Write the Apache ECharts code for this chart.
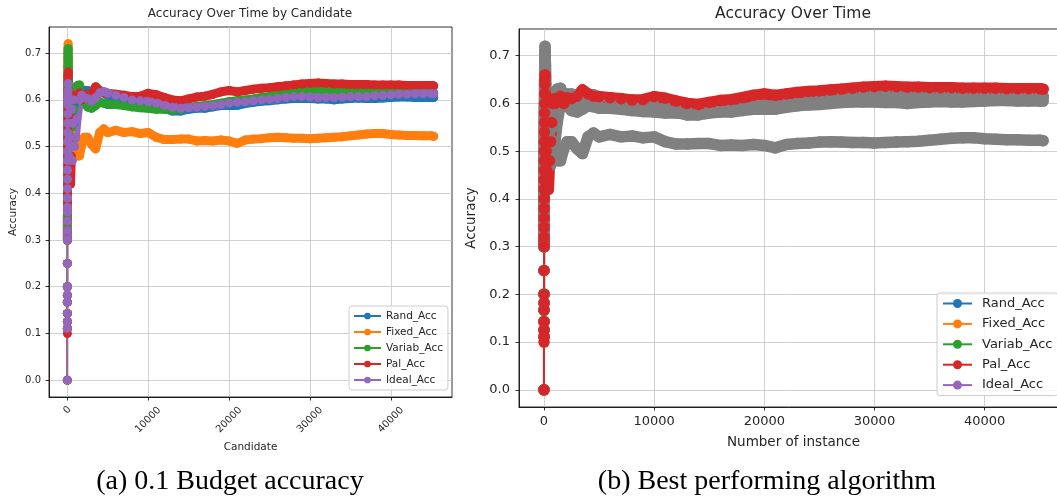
<!DOCTYPE html>
<html><head><meta charset="utf-8">
<script src="https://cdn.jsdelivr.net/npm/echarts@6/dist/echarts.min.js"></script>
<style>html,body{margin:0;padding:0;background:#fff}#c{width:1057px;height:497px}</style>
</head><body><div id="c"></div>
<script>
// ---------------- data ----------------
const seriesNames = ['Rand_Acc', 'Fixed_Acc', 'Variab_Acc', 'Pal_Acc', 'Ideal_Acc'];
const xTicks = [0, 10000, 20000, 30000, 40000];
const yTicks = [0, 0.1, 0.2, 0.3, 0.4, 0.5, 0.6, 0.7];

const instances = [1,4,5,6,7,8,9,10,11,
  13,15,17,19,21,24,27,30,34,38,42,46,50,55,60,66,72,80,90,100,
  130,160,200,250,300,400,500,600,700,800,900,
  1000,1200,1500,1800,2100,2500,3000,3500,4000,4500,
  5000,6000,7000,8000,9000,10000,11000,12000,13000,14000,
  15000,16000,17000,18000,19000,20000,21000,22000,23000,24000,
  25000,26000,27000,28000,29000,30000,31000,32000,33000,34000,
  35000,36000,37000,38000,39000,40000,41000,42000,43000,44000,
  45000,45300];

const randAcc = [0,.25,.2,.167,.143,.125,.111,.2,.182,
  .3,.32,.34,.36,.38,.4,.42,.44,.46,.48,.5,.52,.54,.56,.58,.6,.61,.62,.64,.65,
  .62,.58,.55,.52,.56,.5,.55,.52,.57,.55,.59,
  .6,.6,.61,.615,.62,.62,.612,.615,.62,.615,
  .61,.605,.6,.598,.595,.592,.588,.582,.576,.576,
  .58,.582,.582,.585,.588,.588,.588,.592,.595,.597,
  .598,.6,.602,.603,.603,.603,.602,.602,.6,.602,
  .603,.604,.603,.603,.604,.605,.606,.606,.605,.605,
  .605,.605];

const fixedAcc = [0,.25,.2,.167,.143,.125,.111,.2,.182,
  .3,.33,.36,.38,.41,.44,.46,.49,.51,.54,.56,.58,.6,.62,.64,.66,.68,.7,.71,.72,
  .68,.62,.58,.55,.52,.5,.53,.5,.52,.5,.49,
  .49,.48,.48,.505,.52,.52,.505,.495,.53,.538,
  .53,.535,.53,.532,.528,.53,.52,.515,.515,.516,
  .516,.512,.513,.512,.514,.512,.507,.514,.516,.517,
  .519,.52,.519,.518,.518,.517,.518,.519,.52,.521,
  .523,.525,.527,.528,.528,.526,.525,.524,.524,.523,
  .523,.522];

const variabAcc = [0,.25,.2,.167,.143,.125,.111,.2,.182,
  .3,.33,.35,.38,.4,.43,.45,.48,.5,.53,.55,.57,.59,.61,.63,.65,.67,.69,.7,.71,
  .68,.64,.6,.57,.55,.58,.54,.52,.56,.58,.6,
  .62,.63,.632,.615,.595,.585,.582,.588,.595,.593,
  .59,.59,.588,.585,.583,.582,.58,.58,.578,.58,
  .583,.586,.588,.59,.593,.596,.598,.6,.602,.605,
  .607,.61,.613,.616,.618,.62,.62,.62,.618,.617,
  .617,.617,.616,.616,.615,.615,.615,.615,.615,.615,
  .615,.615];

const palAcc = [0,.25,.2,.167,.143,.125,.111,.1,.182,
  .3,.32,.34,.36,.38,.4,.42,.44,.46,.48,.5,.52,.54,.56,.58,.6,.62,.64,.65,.66,
  .62,.56,.5,.46,.44,.42,.48,.52,.56,.6,.61,
  .6,.61,.615,.6,.612,.61,.615,.628,.62,.615,
  .614,.612,.61,.607,.608,.614,.611,.605,.6,.598,
  .602,.606,.608,.612,.617,.62,.617,.62,.623,.625,
  .626,.628,.63,.632,.634,.635,.636,.635,.634,.634,
  .633,.633,.633,.632,.632,.632,.632,.631,.631,.631,
  .631,.63];

const idealAcc = [0,.25,.2,.167,.143,.125,.111,.2,.182,
  .3,.32,.34,.36,.37,.39,.41,.43,.45,.47,.49,.51,.53,.55,.57,.59,.6,.61,.62,.635,
  .6,.55,.48,.52,.6,.5,.58,.47,.55,.6,.5,
  .52,.56,.6,.61,.605,.603,.597,.605,.615,.618,
  .614,.61,.605,.6,.598,.596,.593,.588,.584,.582,
  .583,.584,.586,.588,.59,.593,.595,.596,.598,.6,
  .601,.603,.605,.607,.607,.606,.605,.605,.605,.606,
  .607,.607,.607,.609,.61,.611,.612,.612,.613,.613,
  .613,.613];

// ---------------- chart ----------------
const values = {Rand_Acc: randAcc, Fixed_Acc: fixedAcc, Variab_Acc: variabAcc, Pal_Acc: palAcc, Ideal_Acc: idealAcc};
const COLORS = {Rand_Acc:'#1f77b4', Fixed_Acc:'#ff7f0e', Variab_Acc:'#2ca02c', Pal_Acc:'#d62728', Ideal_Acc:'#9467bd'};
const GRAY = '#808080';
const FONT = 'DejaVu Sans';
const TXT = '#262626';
const GRIDC = '#c4c4c4';
const HEAD = 9; // first sparse points drawn as separate dots on a thin line

function pts(ys, from) { return instances.map((x, i) => [x, ys[i]]).slice(from || 0); }
// dots + thin connecting line (whole run)
function dotSeries(name, color, gi, size, lw) {
  return {
    type: 'line', name: name, xAxisIndex: gi, yAxisIndex: gi, data: pts(values[name]),
    symbol: 'circle', symbolSize: size, showSymbol: true, showAllSymbol: true,
    lineStyle: {color: color, width: lw}, itemStyle: {color: color, borderWidth: 0},
    emphasis: {disabled: true}, animation: false, clip: true, silent: true
  };
}
// dense run of markers, rendered as a thick round-capped stroke
function bandSeries(name, color, gi, size) {
  return {
    type: 'line', name: name, xAxisIndex: gi, yAxisIndex: gi, data: pts(values[name], HEAD),
    symbol: 'none', showSymbol: false,
    lineStyle: {color: color, width: size, cap: 'round', join: 'round'},
    itemStyle: {color: color},
    emphasis: {disabled: true}, animation: false, clip: true, silent: true
  };
}

const series = [];
seriesNames.forEach(n => {
  series.push(dotSeries(n, COLORS[n], 0, 9, 1.5));
  series.push(bandSeries(n, COLORS[n], 0, 9));
});
const rightOrder = ['Rand_Acc', 'Fixed_Acc', 'Variab_Acc', 'Ideal_Acc', 'Pal_Acc'];
rightOrder.forEach(n => {
  const c = n === 'Pal_Acc' ? COLORS.Pal_Acc : GRAY;
  series.push(dotSeries(n, c, 1, 11.5, 2));
  series.push(bandSeries(n, c, 1, 11.5));
});

function xAxisCfg(gi, fs, rotated, name, nameGap) {
  const label = {
    customValues: xTicks, fontSize: fs, color: TXT, fontFamily: FONT, formatter: v => String(v)
  };
  if (rotated) {
    Object.assign(label, {
      rotate: 45, align: 'center', verticalAlign: 'middle', margin: 23,
      formatter: v => v === 0 ? '{z|0}' : '{n|' + v + '}',
      rich: {z: {fontSize: fs, color: TXT, fontFamily: FONT, padding: [0, 0, 14, 14]},
             n: {fontSize: fs, color: TXT, fontFamily: FONT}}
    });
  } else {
    label.margin = 8;
  }
  return {
    gridIndex: gi, type: 'value', min: -2265, max: 47565,
    axisLine: {show: true, onZero: false, lineStyle: {color: '#000', width: 0.8}},
    axisTick: {show: true, customValues: xTicks, length: 3.5, inside: false, lineStyle: {color: '#000', width: 0.8}},
    axisLabel: label,
    splitLine: {show: true, lineStyle: {color: GRIDC, width: 0.8}},
    name: name, nameLocation: 'middle', nameGap: nameGap,
    nameTextStyle: {fontSize: fs + 0.5, color: TXT, fontFamily: FONT}
  };
}
function yAxisCfg(gi, fs, margin, nameGap) {
  return {
    gridIndex: gi, type: 'value', min: -0.036, max: 0.756,
    axisLine: {show: true, onZero: false, lineStyle: {color: '#000', width: 0.8}},
    axisTick: {show: true, customValues: yTicks, length: 3.5, inside: false, lineStyle: {color: '#000', width: 0.8}},
    axisLabel: {customValues: yTicks, fontSize: fs, color: TXT, fontFamily: FONT, margin: margin,
                formatter: v => v.toFixed(1)},
    splitLine: {show: true, lineStyle: {color: GRIDC, width: 0.8}},
    name: 'Accuracy', nameLocation: 'middle', nameGap: nameGap,
    nameTextStyle: {fontSize: fs + 0.5, color: TXT, fontFamily: FONT}
  };
}
function legendCfg(left, top, pad, iw, ih, gap, fs, lh, textPad) {
  return {
    data: seriesNames, orient: 'vertical', left: left, top: top, padding: pad,
    itemWidth: iw, itemHeight: ih, itemGap: gap, selectedMode: false,
    textStyle: {fontSize: fs, lineHeight: lh, color: TXT, fontFamily: FONT, padding: textPad},
    backgroundColor: 'rgba(255,255,255,0.8)', borderColor: '#cccccc', borderWidth: 1, borderRadius: 3
  };
}

const option = {
  backgroundColor: '#ffffff',
  animation: false,
  title: [
    {text: 'Accuracy Over Time by Candidate', left: 250, top: 8, textAlign: 'center', padding: 0,
     textStyle: {fontSize: 12, fontWeight: 'normal', color: TXT, fontFamily: FONT}},
    {text: 'Accuracy Over Time', left: 793, top: 6, textAlign: 'center', padding: 0,
     textStyle: {fontSize: 15.5, fontWeight: 'normal', color: TXT, fontFamily: FONT}},
    {text: '(a) 0.1 Budget accuracy', left: 230, top: 467, textAlign: 'center', padding: 0,
     textStyle: {fontSize: 28, lineHeight: 30, fontWeight: 'normal', color: '#000', fontFamily: 'Liberation Serif'}},
    {text: '(b) Best performing algorithm', left: 767, top: 467, textAlign: 'center', padding: 0,
     textStyle: {fontSize: 28, lineHeight: 30, fontWeight: 'normal', color: '#000', fontFamily: 'Liberation Serif'}}
  ],
  grid: [
    {left: 49, top: 27, width: 403, height: 370, show: true, borderColor: '#000', borderWidth: 0.8,
     backgroundColor: 'transparent', containLabel: false, outerBoundsMode: 'none'},
    {left: 519, top: 29, width: 549, height: 378, show: true, borderColor: '#000', borderWidth: 0.8,
     backgroundColor: 'transparent', containLabel: false, outerBoundsMode: 'none'}
  ],
  xAxis: [xAxisCfg(0, 10, true, 'Candidate', 41), xAxisCfg(1, 13, false, 'Number of instance', 28)],
  yAxis: [yAxisCfg(0, 10, 8, 30), yAxisCfg(1, 13, 9, 39)],
  legend: [
    legendCfg(349, 306, [4, 5, 4, 4], 27, 8.4, 4, 10.5, 12, 0),
    legendCfg(937, 293, [3, 6, 3, 5], 29, 11.25, 5.4, 13, 15, [0, 0, 0, 5])
  ],
  series: series
};

const chart = echarts.init(document.getElementById('c'), null, {renderer: 'canvas'});
chart.setOption(option);
</script>
</body></html>
